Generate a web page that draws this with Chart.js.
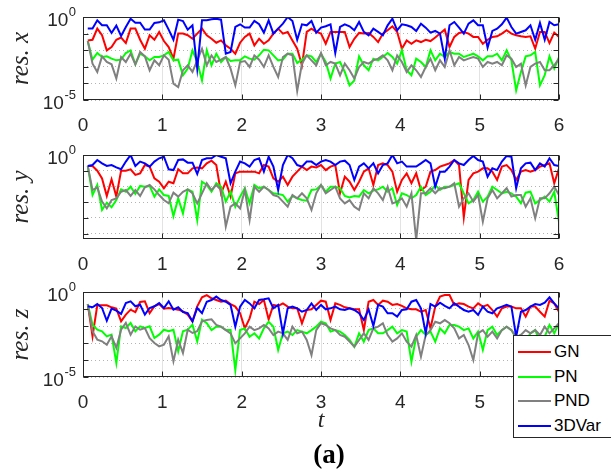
<!DOCTYPE html>
<html><head><meta charset="utf-8">
<script src="https://cdn.jsdelivr.net/npm/chart.js@4.4.1/dist/chart.umd.min.js"></script>
<style>
html,body{margin:0;padding:0;background:#fff;}
body{width:611px;height:473px;overflow:hidden;position:relative;font-family:"Liberation Sans",Arial,sans-serif;}
canvas{position:absolute;left:0;}
#legend{position:absolute;left:513px;top:335px;width:110px;height:101px;background:#fff;border:1px solid #262626;}
.row{position:absolute;left:0;height:24px;width:110px;}
.swatch{position:absolute;left:4px;top:11px;width:33px;height:2px;}
.lab{position:absolute;left:40px;top:0;font-size:17px;line-height:24px;color:#000;}
#ttl{position:absolute;left:279px;width:100px;top:440px;text-align:center;font:bold 27px "Liberation Serif","Times New Roman",serif;line-height:28px;color:#000;}
</style></head>
<body>
<canvas id="c1" width="611" height="140" style="top:0px"></canvas>
<canvas id="c2" width="611" height="140" style="top:140px"></canvas>
<canvas id="c3" width="611" height="193" style="top:280px"></canvas>
<div id="legend"></div>
<div id="ttl">(a)</div>
<script>
// time samples
const t = [0.06,0.12,0.18,0.24,0.30,0.36,0.42,0.48,0.54,0.60,0.66,0.72,0.78,0.84,0.90,0.96,1.02,1.08,1.14,1.20,
1.26,1.32,1.38,1.44,1.50,1.56,1.62,1.68,1.74,1.80,1.86,1.92,1.98,2.04,2.10,2.16,2.22,2.28,2.34,2.40,
2.46,2.52,2.58,2.64,2.70,2.76,2.82,2.88,2.94,3.00,3.06,3.12,3.18,3.24,3.30,3.36,3.42,3.48,3.54,3.60,
3.66,3.72,3.78,3.84,3.90,3.96,4.02,4.08,4.14,4.20,4.26,4.32,4.38,4.44,4.50,4.56,4.62,4.68,4.74,4.80,
4.86,4.92,4.98,5.04,5.10,5.16,5.22,5.28,5.34,5.40,5.46,5.52,5.58,5.64,5.70,5.76,5.82,5.88,5.94,6.00];

const seriesNames = ["GN","PN","PND","3DVar"];
const seriesColors = ["#ff0000","#00ff00","#808080","#0000ff"];
const xTicks = [0,1,2,3,4,5,6];

// residuals, stored as log10(residual)
const resX_GN = [-1.41,-1.37,-0.70,-1.10,-2.01,-1.81,-1.37,-1.24,-1.57,-0.70,-0.70,-1.37,-1.91,-1.10,-1.37,-0.90,-1.45,-1.81,-2.51,-1.00,
-1.00,-1.10,-1.31,-1.00,-0.70,-1.10,-1.31,-1.55,-1.41,-1.71,-1.91,-2.21,-1.55,-1.20,-1.00,-1.71,-1.31,-1.61,-1.41,-1.00,
-0.70,-1.00,-0.90,-1.41,-1.91,-2.91,-0.90,-0.70,-0.90,-1.00,-1.61,-0.90,-0.90,-0.90,-0.90,-1.81,-1.31,-0.96,-1.00,-0.96,
-1.20,-1.51,-1.00,-0.80,-0.56,-0.90,-1.91,-1.41,-1.61,-1.41,-1.51,-1.37,-1.45,-1.24,-1.00,-0.76,-1.81,-1.20,-0.96,-0.90,
-1.00,-1.20,-1.20,-1.61,-1.37,-1.20,-1.16,-1.00,-0.80,-1.00,-1.10,-1.16,-1.20,-1.16,-1.91,-0.90,-0.90,-1.57,-0.94,-1.20];
const resX_PN = [-1.45,-2.57,-2.17,-2.41,-2.37,-2.51,-2.61,-2.57,-2.17,-2.01,-2.85,-2.21,-2.37,-2.61,-2.41,-2.41,-2.31,-2.11,-2.61,-2.57,
-3.51,-3.11,-2.01,-2.71,-3.82,-2.01,-2.91,-2.21,-2.71,-2.41,-2.65,-2.61,-2.61,-2.37,-2.51,-2.57,-2.31,-1.97,-2.01,-2.31,
-2.61,-2.57,-2.21,-2.21,-2.77,-2.57,-2.31,-2.37,-2.71,-2.21,-2.71,-3.71,-2.81,-2.71,-3.31,-4.12,-3.82,-2.37,-2.91,-3.21,
-2.51,-2.61,-2.41,-2.17,-2.41,-2.81,-2.01,-3.21,-3.51,-2.51,-2.71,-3.01,-2.01,-2.61,-2.21,-2.41,-2.11,-2.21,-2.21,-2.41,
-2.31,-2.21,-2.37,-2.61,-2.37,-2.37,-2.21,-2.61,-2.01,-2.61,-4.42,-3.31,-2.37,-2.31,-2.11,-4.12,-3.51,-2.37,-3.11,-2.41];
const resX_PND = [-1.45,-2.81,-3.31,-2.37,-2.71,-2.85,-3.71,-2.41,-2.71,-2.21,-2.85,-2.11,-2.37,-3.21,-2.61,-2.91,-2.31,-2.57,-4.02,-4.22,
-3.21,-2.91,-3.31,-2.61,-1.91,-2.91,-2.31,-2.71,-2.57,-2.41,-3.11,-4.12,-2.71,-2.65,-3.01,-2.31,-2.57,-3.01,-2.31,-3.01,
-3.61,-2.41,-2.21,-2.31,-4.46,-2.81,-2.31,-2.61,-2.91,-2.17,-2.91,-2.71,-2.81,-3.51,-2.81,-3.21,-3.71,-3.01,-2.71,-2.81,
-2.61,-2.51,-2.31,-2.61,-3.21,-2.31,-2.71,-3.31,-2.91,-3.21,-3.61,-3.01,-2.51,-3.21,-2.61,-3.01,-2.01,-2.91,-2.41,-2.61,
-2.51,-2.41,-2.51,-3.01,-2.71,-2.81,-2.71,-2.91,-2.31,-2.51,-3.01,-2.81,-4.12,-3.01,-2.81,-2.71,-3.21,-3.21,-2.91,-2.51];
const resX_3DVar = [-0.70,-0.70,-0.20,-0.50,-0.50,-0.96,-0.52,-1.14,-0.60,-0.10,-0.34,-0.34,-0.76,-0.76,-0.36,-0.32,-0.20,-0.76,-1.37,-0.16,
-0.24,-0.76,-0.50,-3.11,-0.20,-0.20,-0.14,-0.10,-0.16,-2.21,-2.11,-0.60,-0.44,-0.64,-0.64,-0.24,-0.44,-0.94,-0.20,-1.00,
-0.70,-0.40,0.00,-0.24,-1.37,-0.44,-0.50,-0.24,-0.94,-0.64,-0.56,-0.44,-2.17,-0.60,-0.44,-0.56,-0.80,-0.30,-0.90,-1.10,
-0.70,-0.90,-1.10,-0.50,-0.10,-0.80,-0.44,-0.50,-0.60,-0.84,-0.40,-0.64,-0.94,-0.84,-1.00,-2.51,-0.50,-0.30,-0.64,-1.00,
-0.40,-0.20,-0.50,-0.50,-1.85,-0.84,-0.70,-0.44,-0.04,-0.60,-1.00,-0.90,-0.80,-0.50,-1.37,-0.36,-1.37,-0.30,-0.50,-0.44];

const resY_GN = [-0.70,-0.70,-1.00,-1.49,-2.61,-1.55,-2.65,-1.00,-1.00,-0.91,-1.27,-1.17,-0.64,-0.74,-1.49,-1.70,-2.12,-1.70,-1.80,-0.91,
-1.17,-1.17,-0.85,-0.79,-0.85,-0.53,-0.36,-0.64,-2.44,-1.70,-2.65,-1.17,-1.06,-1.06,-1.06,-1.06,-1.17,-0.64,-0.74,-1.49,
-1.70,-1.38,-1.91,-1.38,-1.06,-0.74,-0.96,-0.74,-0.79,-0.64,-0.96,-0.74,-0.64,-2.44,-1.38,-1.70,-2.23,-1.70,-1.06,-0.85,
-1.91,-0.64,-0.53,-0.64,-1.06,-2.34,-1.59,-1.17,-1.80,-1.17,-2.23,-2.02,-1.06,-0.96,-0.74,-0.64,-0.53,-0.32,-0.64,-3.97,
-1.59,-1.17,-1.06,-0.85,-0.85,-1.06,-1.59,-0.74,-0.64,-0.96,-1.59,-1.06,-0.96,-1.06,-0.96,-0.74,-0.64,-0.53,-1.80,-0.85];
const resY_PN = [-0.70,-2.55,-1.91,-3.50,-3.04,-3.33,-2.87,-2.19,-2.34,-2.02,-2.48,-1.97,-2.02,-1.97,-2.65,-2.19,-2.55,-2.61,-3.89,-2.76,
-3.72,-2.19,-2.34,-4.14,-1.70,-1.91,-2.34,-1.80,-2.02,-2.97,-2.34,-3.29,-2.65,-2.12,-3.08,-1.91,-2.12,-2.02,-2.23,-2.44,
-2.48,-2.55,-2.97,-2.61,-2.76,-2.87,-2.91,-2.23,-2.19,-1.91,-2.34,-2.02,-2.02,-2.12,-2.61,-2.70,-2.61,-2.65,-2.23,-2.44,
-2.27,-2.19,-2.02,-2.34,-2.12,-3.18,-2.44,-2.55,-2.76,-2.55,-2.02,-2.55,-2.34,-1.91,-2.23,-2.02,-2.02,-1.91,-1.80,-2.44,
-3.08,-2.87,-2.34,-2.97,-2.65,-2.02,-2.23,-2.44,-2.34,-2.44,-2.65,-3.08,-2.40,-2.34,-3.08,-2.87,-2.65,-2.97,-2.34,-4.25];
const resY_PND = [-0.70,-2.23,-2.06,-2.97,-3.40,-2.87,-2.76,-2.34,-2.23,-2.61,-2.23,-2.61,-2.06,-1.91,-2.19,-2.55,-2.87,-3.08,-2.40,-2.65,
-2.34,-2.19,-2.44,-3.08,-2.44,-1.80,-2.23,-1.91,-2.23,-4.56,-3.29,-3.08,-3.40,-2.23,-4.14,-2.02,-2.34,-2.02,-2.23,-2.55,
-2.65,-2.97,-3.29,-2.55,-2.76,-2.44,-2.76,-3.50,-2.44,-1.91,-2.44,-2.23,-2.02,-2.76,-3.08,-2.87,-3.29,-3.50,-2.44,-2.76,
-2.12,-2.44,-2.87,-2.02,-3.08,-2.97,-2.76,-3.29,-2.44,-5.41,-2.44,-2.44,-2.12,-2.44,-2.12,-2.12,-2.02,-1.80,-3.29,-2.76,
-2.44,-2.97,-2.55,-4.25,-2.76,-2.23,-2.76,-2.44,-2.12,-2.65,-2.55,-2.55,-3.29,-2.76,-4.03,-2.76,-2.76,-2.44,-2.02,-2.55];
const resY_3DVar = [-0.70,-0.64,-0.32,-0.53,-0.70,-0.64,-0.79,-0.91,-0.42,0.00,-0.70,-0.42,-0.53,-0.74,-0.42,-0.21,-0.11,-0.91,-0.96,-0.32,
-0.28,-0.49,-0.49,-1.21,-0.32,-0.21,-0.21,0.00,-0.11,-0.21,-1.80,-1.06,-0.42,-0.53,-0.74,-0.32,-0.21,-1.06,-0.11,-0.74,
-2.23,-0.64,0.00,-0.21,-0.64,-0.74,-0.42,-0.42,-0.64,-0.42,-0.32,-0.42,-0.64,-0.42,-0.36,-0.64,-1.59,-0.74,-0.53,-0.85,
-0.53,-1.17,-0.64,-0.53,0.00,-0.53,-0.42,-0.74,-0.74,-0.74,-0.53,-0.32,-0.53,-2.02,-1.06,-1.06,-0.74,-0.32,-0.53,-0.64,
-0.32,-0.06,-0.32,-0.42,-1.38,-0.85,-0.96,-0.42,-0.06,-0.11,-2.12,-0.85,-0.53,-0.49,-0.96,-0.53,-0.74,-0.21,-0.64,-0.70];

const resZ_GN = [-0.71,-2.61,-0.78,-0.78,-0.78,-0.90,-0.98,-1.73,-1.33,-1.04,-1.18,-0.59,-0.55,-1.24,-0.84,-0.71,-0.98,-0.94,-0.98,-1.04,
-1.14,-1.33,-1.73,-0.84,-0.31,-0.18,-0.37,-0.47,-0.57,-0.51,-0.71,-0.86,-1.25,-2.14,-1.55,-0.57,-0.71,-0.47,-1.61,-0.76,
-0.82,-0.67,-0.86,-0.96,-0.96,-1.84,-1.06,-1.02,-0.76,-0.51,-0.57,-1.65,-0.67,-0.76,-0.90,-0.96,-1.02,-1.02,-2.24,-0.57,
-0.47,-0.76,-0.51,-0.57,-0.76,-0.71,-0.82,-0.96,-1.02,-1.02,-1.16,-1.06,-2.14,-0.86,-0.27,-0.18,-0.18,-0.76,-0.67,-0.71,
-0.86,-0.96,-0.67,-0.86,-0.76,-1.06,-1.45,-0.96,-0.86,-0.86,-0.96,-0.96,-1.45,-0.86,-0.86,-1.16,-1.45,-0.51,-0.67,-1.16];
const resZ_PN = [-0.71,-1.92,-2.22,-2.31,-2.61,-2.51,-4.18,-2.02,-2.12,-1.82,-2.31,-2.02,-2.12,-2.02,-2.71,-2.51,-2.22,-2.31,-2.22,-3.49,
-2.31,-2.22,-1.92,-2.90,-1.63,-1.84,-2.24,-2.04,-2.04,-2.24,-2.24,-4.59,-2.24,-2.14,-2.63,-2.43,-2.73,-2.14,-1.75,-2.04,
-3.41,-2.43,-2.33,-2.53,-2.24,-2.33,-2.43,-2.24,-2.04,-1.75,-1.84,-2.33,-2.24,-2.33,-2.53,-2.82,-3.22,-2.43,-2.92,-2.24,
-2.14,-2.43,-2.43,-2.24,-2.04,-2.43,-2.24,-2.33,-4.10,-2.63,-2.24,-2.53,-2.33,-2.92,-2.14,-2.43,-1.94,-1.94,-2.04,-2.24,
-2.14,-2.73,-2.33,-3.41,-2.24,-2.04,-2.53,-2.24,-2.04,-2.24,-2.73,-2.53,-2.92,-2.43,-2.24,-2.92,-2.63,-1.94,-2.43,-1.84];
const resZ_PND = [-0.71,-2.31,-2.80,-2.90,-3.10,-2.61,-3.29,-2.22,-1.82,-2.51,-2.02,-2.22,-2.12,-2.71,-3.00,-3.20,-3.10,-2.61,-4.08,-2.80,
-3.59,-2.22,-2.41,-2.31,-1.73,-1.65,-1.61,-1.94,-2.04,-2.24,-2.43,-3.02,-2.73,-2.43,-2.04,-2.24,-2.14,-1.94,-2.14,-2.53,
-2.33,-2.43,-2.82,-2.04,-2.43,-2.33,-2.82,-3.71,-2.24,-1.84,-1.94,-2.14,-2.24,-2.53,-2.63,-2.92,-3.22,-2.82,-2.43,-2.82,
-2.14,-2.04,-1.84,-2.53,-2.92,-2.73,-2.43,-2.92,-3.22,-2.53,-3.80,-2.53,-2.24,-1.75,-1.84,-1.65,-1.84,-2.14,-2.73,-2.53,
-3.12,-4.00,-2.43,-2.24,-2.63,-2.33,-2.73,-2.24,-2.04,-2.24,-2.63,-2.53,-2.24,-2.43,-2.24,-2.53,-2.04,-2.43,-2.14,-1.84];
const resZ_3DVar = [-0.84,-0.90,-0.71,-0.94,-1.69,-0.98,-1.10,-1.29,-0.65,-0.55,-0.84,-0.75,-1.33,-0.94,-0.84,-0.65,-0.94,-0.55,-1.04,-0.90,
-1.18,-1.24,-1.73,-0.94,-1.24,-0.57,-0.47,-0.27,-0.47,-0.57,-0.76,-2.04,-0.86,-0.47,-0.67,-0.96,-0.47,-0.43,-0.37,-0.96,
-0.76,-2.43,-0.96,-0.86,-0.96,-1.16,-1.06,-0.67,-1.06,-0.76,-1.02,-0.96,-0.86,-1.02,-1.06,-0.96,-1.06,-1.25,-1.65,-1.02,
-2.00,-0.76,-0.86,-1.25,-1.25,-1.45,-1.06,-1.02,-0.57,-0.47,-0.96,-2.43,-0.71,-0.86,-0.63,-0.82,-0.96,-0.67,-0.86,-1.06,
-1.16,-1.06,-1.35,-0.86,-1.16,-1.25,-0.96,-0.86,-0.76,-0.86,-2.63,-1.16,-1.06,-0.86,-0.71,-0.76,-0.63,-0.31,-0.67,-0.96];

// y-axis decade exponents (grid) and which decades are labelled
const panels = [
  {id:"c1", title:"res. x", series:[resX_GN,resX_PN,resX_PND,resX_3DVar], yMinExp:-5, yMaxExp:0, gridExps:[0,-1,-2,-3,-4,-5], labelExps:[0,-5], padTop:17, xAxisH:40, xTitle:null},
  {id:"c2", title:"res. y", series:[resY_GN,resY_PN,resY_PND,resY_3DVar], yMinExp:-5.35, yMaxExp:0, gridExps:[0,-1,-2,-3,-4,-5], labelExps:[0], padTop:15, xAxisH:41, xTitle:null},
  {id:"c3", title:"res. z", series:[resZ_GN,resZ_PN,resZ_PND,resZ_3DVar], yMinExp:-5, yMaxExp:0, gridExps:[0,-1,-2,-3,-4,-5], labelExps:[0,-5], padTop:12, xAxisH:96, xTitle:"t"}
];

const framePlugin = {
  id:"frame",
  afterDraw(chart, args, opts){
    const {ctx, chartArea:a, scales} = chart;
    const xs = scales.x, ys = scales.y;
    const L = Math.round(a.left)+0.5, R = Math.round(a.right)-0.5, T = Math.round(a.top)+0.5, B = Math.round(a.bottom)-0.5;
    ctx.save();
    ctx.strokeStyle = "#262626"; ctx.lineWidth = 1;
    ctx.strokeRect(L, T, R-L, B-T);
    ctx.beginPath();
    xs.ticks.forEach(tk => {
      const px = Math.round(xs.getPixelForValue(tk.value))+0.5;
      ctx.moveTo(px,B); ctx.lineTo(px,B-5); ctx.moveTo(px,T); ctx.lineTo(px,T+5);
    });
    ys.ticks.forEach(tk => {
      const py = Math.round(ys.getPixelForValue(tk.value))+0.5;
      ctx.moveTo(L,py); ctx.lineTo(L+5,py); ctx.moveTo(R,py); ctx.lineTo(R-5,py);
    });
    ctx.stroke();
    ctx.fillStyle = "#262626";
    ctx.textBaseline = "middle";
    ctx.textAlign = "left";
    (opts.labelExps||[]).forEach(e => {
      const py = ys.getPixelForValue(Math.pow(10,e));
      const sup = String(e);
      ctx.font = '13px "Liberation Sans", Arial, sans-serif';
      const sw = ctx.measureText(sup).width;
      ctx.font = '19px "Liberation Sans", Arial, sans-serif';
      const bw = ctx.measureText("10").width;
      const right = 76;
      ctx.fillText("10", right - sw - bw - 0.5, py + 4);
      ctx.font = '13px "Liberation Sans", Arial, sans-serif';
      ctx.fillText(sup, right - sw, py - 5);
    });
    ctx.restore();
  }
};

panels.forEach(p => {
  const datasets = p.series.map((logs, si) => ({
    label: seriesNames[si],
    data: logs.map((v,i) => ({x:t[i], y:Math.pow(10,v)})),
    borderColor: seriesColors[si],
    backgroundColor: seriesColors[si],
    borderWidth: 2,
    pointRadius: 0,
    tension: 0,
    fill: false,
    order: 4 - si
  }));
  new Chart(document.getElementById(p.id), {
    type: "line",
    data: {datasets},
    plugins: [framePlugin],
    options: {
      responsive: false,
      animation: false,
      events: [],
      layout: {padding: {top:p.padTop, right:52, left:0, bottom:0}},
      plugins: {legend:{display:false}, tooltip:{enabled:false}, frame:{labelExps:p.labelExps}},
      scales: {
        x: {
          type: "linear", min: 0, max: 6,
          afterBuildTicks: s => { s.ticks = xTicks.map(v => ({value:v})); },
          afterFit: s => { s.height = p.xAxisH; },
          ticks: {stepSize:1, padding:14, color:"#262626", font:{family:'"Liberation Sans", Arial, sans-serif', size:19}},
          grid: {color:"#e3e3e3", lineWidth:1, drawTicks:false},
          border: {display:false},
          title: p.xTitle ? {display:true, text:p.xTitle, color:"#262626", font:{family:'"Liberation Serif", "Times New Roman", serif', style:"italic", size:24}, padding:{top:0, bottom:38}} : {display:false}
        },
        y: {
          type: "logarithmic",
          min: Math.pow(10,p.yMinExp), max: Math.pow(10,p.yMaxExp),
          afterBuildTicks: s => { s.ticks = p.gridExps.map(e => ({value:Math.pow(10,e)})); },
          afterFit: s => { s.width = 83; },
          ticks: {display:false},
          grid: {color:"#b4b4b4", lineWidth:1, drawTicks:false},
          border: {display:false, dash:[1,3]},
          title: {display:true, text:p.title, color:"#262626", font:{family:'"Liberation Serif", "Times New Roman", serif', style:"italic", size:25}, padding:{top:6, bottom:0}}
        }
      }
    }
  });
});

// legend
const lg = document.getElementById("legend");
const rowTops = [4, 28.7, 53.3, 78];
seriesNames.forEach((n, i) => {
  const r = document.createElement("div");
  r.className = "row"; r.style.top = rowTops[i] + "px";
  const s = document.createElement("div");
  s.className = "swatch"; s.style.background = seriesColors[i];
  const l = document.createElement("span");
  l.className = "lab"; l.textContent = n;
  r.appendChild(s); r.appendChild(l); lg.appendChild(r);
});
</script>
</body></html>
